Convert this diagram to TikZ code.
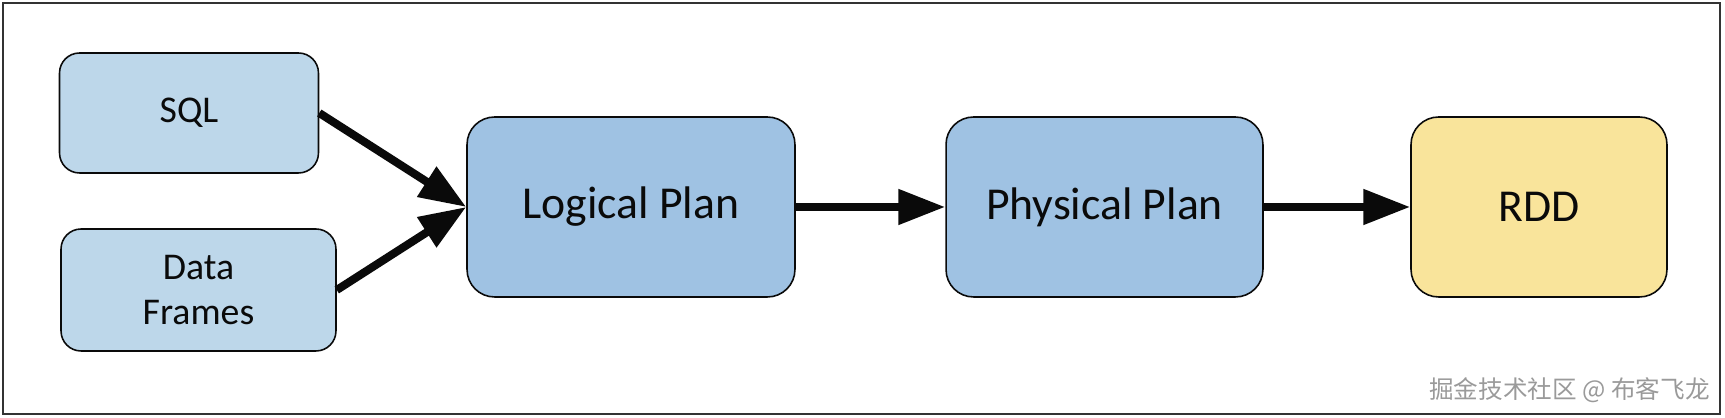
\documentclass[tikz,border=0pt]{standalone}
\usepackage{fontspec}
\setmainfont{Carlito}
\newfontfamily\cjk{Noto Sans CJK SC}
\usetikzlibrary{arrows.meta}
\definecolor{srcblue}{HTML}{BDD7EA}
\definecolor{planblue}{HTML}{9FC2E3}
\definecolor{rddyellow}{HTML}{F9E49B}
\definecolor{ink}{HTML}{0A0A0A}
\definecolor{edge}{HTML}{333333}
\definecolor{wmark}{HTML}{9A9A9A}

\begin{document}
\begin{tikzpicture}[x=0.02cm,y=0.02cm,
    src/.style={draw=ink,line width=0.9pt,fill=srcblue,rounded corners=0.4cm,align=center,
      inner sep=0pt,text=ink,font=\fontsize{21.5}{25.5}\selectfont},
    plan/.style={draw=ink,line width=0.9pt,fill=planblue,rounded corners=0.55cm,
      inner sep=0pt,minimum height=3.6cm,text=ink,font=\fontsize{26}{30}\selectfont},
    flow/.style={-{Triangle[length=0.94cm,width=0.68cm]},ink,line width=4.6pt}]
  \useasboundingbox (0,0) rectangle (1725,418);
  \draw[edge,line width=1.1pt] (3,4) rectangle (1720,415);
  % sources
  \node[src,minimum width=5.18cm,minimum height=2.4cm] (sql) at (189,305) {SQL};
  \node[src,minimum width=5.5cm,minimum height=2.44cm] (df) at (198.5,128) {Data\\Frames};
  % plans
  \node[plan,minimum width=6.56cm] (logical) at (631,211) {Logical Plan};
  \node[plan,minimum width=6.34cm] (physical) at (1104.5,211) {Physical Plan};
  \node[plan,minimum width=5.12cm,fill=rddyellow] (rdd) at (1539,211) {RDD};
  \draw[flow] (sql.east) -- (logical.west);
  \draw[flow] (df.east) -- (logical.west);
  \draw[flow] (logical) -- (physical);
  \draw[flow] (physical) -- (rdd);
  \node[anchor=east,font=\cjk\fontsize{14}{16}\selectfont,color=wmark,inner sep=0pt] (mark) at (1710,28)
    {掘金技术社区 @ 布客飞龙};
\end{tikzpicture}
\end{document}
